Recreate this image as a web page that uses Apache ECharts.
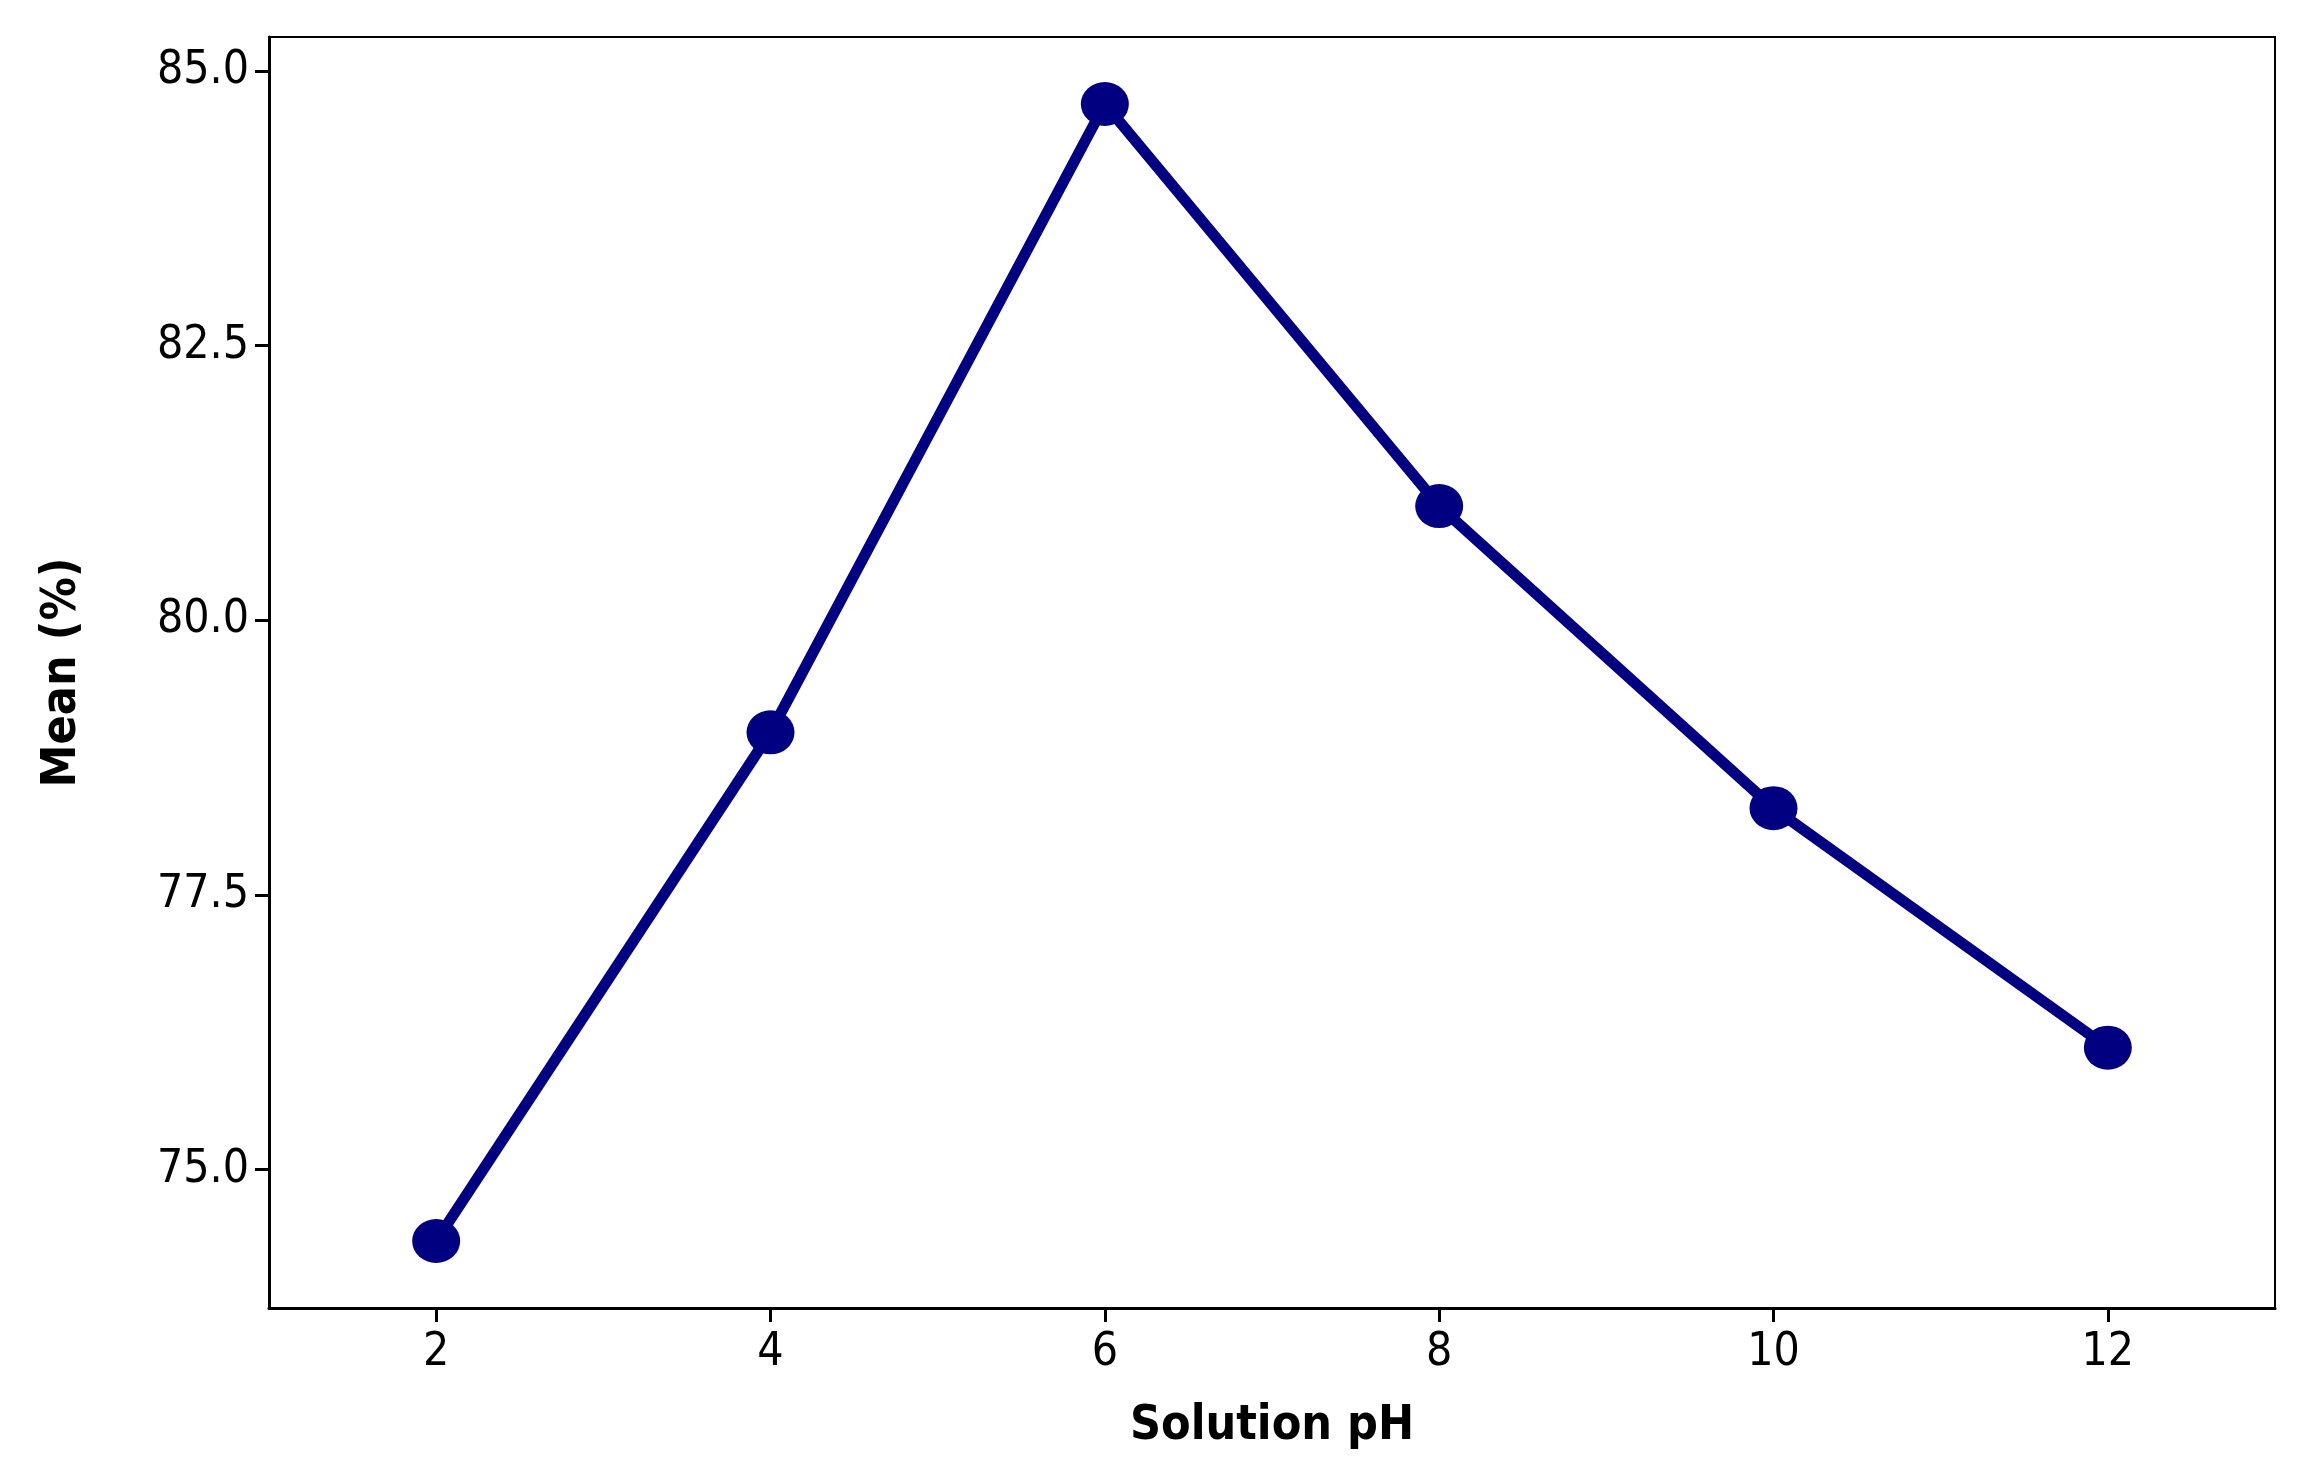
<!DOCTYPE html><html><head><meta charset="utf-8"><script src="https://cdn.jsdelivr.net/npm/echarts@6/dist/echarts.min.js"></script>
<style>html,body{margin:0;background:#fff}#c{width:2303px;height:1473px}</style></head><body><div id="c"></div><script>
const phValues=[2,4,6,8,10,12];
const meanValues=[74.35,78.98,84.7,81.04,78.29,76.11];
const xTicks=[2,4,6,8,10,12];
const yTicks=[75,77.5,80,82.5,85];
const font='"DejaVu Sans Condensed","Liberation Sans Narrow",sans-serif';
const ch=echarts.init(document.getElementById('c'));
ch.setOption({
 animation:false,
 grid:{left:269,right:28,top:37,bottom:165,show:true,borderColor:'#000',borderWidth:2},
 xAxis:{type:'value',min:1,max:13,name:'Solution pH',nameLocation:'middle',nameGap:95,
  nameTextStyle:{fontFamily:font,fontWeight:900,fontSize:48,color:'#000'},
  axisLine:{lineStyle:{color:'#000',width:3}},splitLine:{show:false},
  axisTick:{customValues:xTicks,length:14,lineStyle:{width:3,color:'#000'}},
  axisLabel:{customValues:xTicks,fontFamily:font,fontSize:46,color:'#000',margin:22}},
 yAxis:{type:'value',min:73.74,max:85.31,name:'Mean (%)',nameLocation:'middle',nameGap:182,
  nameTextStyle:{fontFamily:font,fontWeight:900,fontSize:48,color:'#000'},
  axisLine:{lineStyle:{color:'#000',width:3}},splitLine:{show:false},
  axisTick:{customValues:yTicks,length:14,lineStyle:{width:3,color:'#000'}},
  axisLabel:{customValues:yTicks,fontFamily:font,fontSize:46,color:'#000',margin:20,formatter:v=>v.toFixed(1)}},
 series:[{type:'line',data:phValues.map((x,i)=>[x,meanValues[i]]),symbol:'circle',symbolSize:[48,44],
  lineStyle:{color:'#000080',width:11},itemStyle:{color:'#000080'}}]
});
</script></body></html>
